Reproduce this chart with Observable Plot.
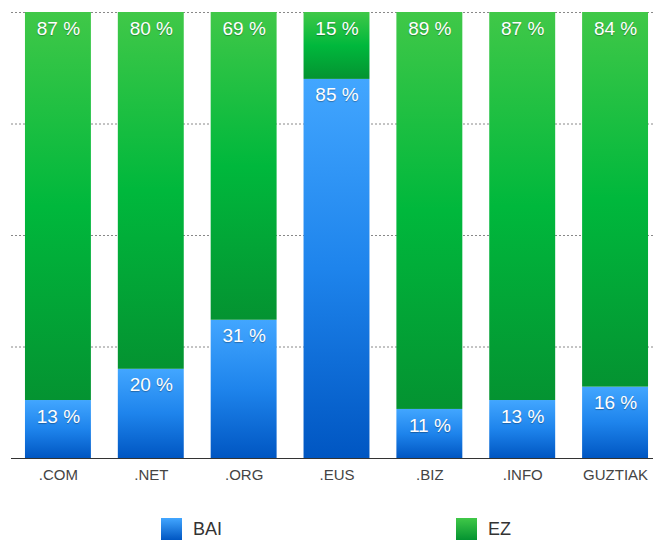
<!DOCTYPE html>
<html>
<head>
<meta charset="utf-8">
<script src="https://cdn.jsdelivr.net/npm/d3@7"></script>
<script src="https://cdn.jsdelivr.net/npm/@observablehq/plot@0.6"></script>
<style>
  html, body { margin: 0; padding: 0; background: #fff; }
  #chart { position: relative; width: 653px; }
  svg g[aria-label="text"] text { text-shadow: 0 1px 1px rgba(0,0,0,0.3); }
  #legend { position: relative; width: 653px; height: 41px; font-family: "Liberation Sans", Arial, sans-serif; font-size: 18px; color: #333; }
  .item { position: absolute; top: 18px; display: flex; align-items: center; }
  .sw { width: 21px; height: 22px; margin-right: 11px; }
</style>
</head>
<body>
<div id="chart"></div>
<div id="legend"></div>
<script>
const categories = [".COM", ".NET", ".ORG", ".EUS", ".BIZ", ".INFO", "GUZTIAK"];
const bai = [13, 20, 31, 85, 11, 13, 16];
const ez = [87, 80, 69, 15, 89, 87, 84];
const gridTicks = [25, 50, 75, 100];
const seriesNames = ["BAI", "EZ"];

const rows = categories.map((c, i) => ({cat: c, bai: bai[i], ez: ez[i]}));

const svg = Plot.plot({
  width: 653,
  height: 500,
  marginTop: 12,
  marginBottom: 42,
  marginLeft: 11,
  marginRight: 0,
  style: {fontFamily: "'Liberation Sans', Arial, sans-serif", fontSize: "15px", color: "#444", background: "#fff"},
  x: {domain: categories, range: [11.5, 661.5], paddingInner: 0.29, paddingOuter: 0.145, round: false, label: null},
  y: {domain: [0, 100], axis: null},
  marks: [
    Plot.ruleY(gridTicks, {stroke: "#888", strokeDasharray: "2,2", strokeWidth: 1}),
    Plot.barY(rows, {x: "cat", y1: 0, y2: "bai", fill: "url(#gBlue)"}),
    Plot.barY(rows, {x: "cat", y1: "bai", y2: d => d.bai + d.ez, fill: "url(#gGreen)"}),
    Plot.ruleY([0], {stroke: "#333", strokeWidth: 1}),
    Plot.axisX({tickSize: 0, tickPadding: 11, fontSize: 15, fill: "#444", label: null}),
    Plot.text(rows, {x: "cat", y: "bai", text: d => d.bai + " %", dy: 16, fill: "white", fontSize: 19}),
    Plot.text(rows, {x: "cat", y: d => d.bai + d.ez, text: d => d.ez + " %", dy: 16, fill: "white", fontSize: 19})
  ]
});

const defs = d3.select(svg).insert("defs", ":first-child");
function grad(id, stops) {
  const g = defs.append("linearGradient").attr("id", id).attr("x1", 0).attr("y1", 0).attr("x2", 0).attr("y2", 1);
  stops.forEach(([o, c]) => g.append("stop").attr("offset", o).attr("stop-color", c));
}
grad("gBlue", [[0, "#42a6ff"], [0.5, "#1e84ec"], [1, "#0056c2"]]);
grad("gGreen", [[0, "#40c848"], [0.5, "#00b83c"], [1, "#049331"]]);

document.getElementById("chart").appendChild(svg);

const legendColors = {
  BAI: "linear-gradient(#42a6ff, #0056c2)",
  EZ: "linear-gradient(#40c848, #049331)"
};
const legendLeft = {BAI: 161, EZ: 456};
const legend = document.getElementById("legend");
seriesNames.forEach(n => {
  const item = document.createElement("div");
  item.className = "item";
  item.style.left = legendLeft[n] + "px";
  const sw = document.createElement("div");
  sw.className = "sw";
  sw.style.background = legendColors[n];
  const t = document.createElement("span");
  t.textContent = n;
  item.appendChild(sw);
  item.appendChild(t);
  legend.appendChild(item);
});
</script>
</body>
</html>
